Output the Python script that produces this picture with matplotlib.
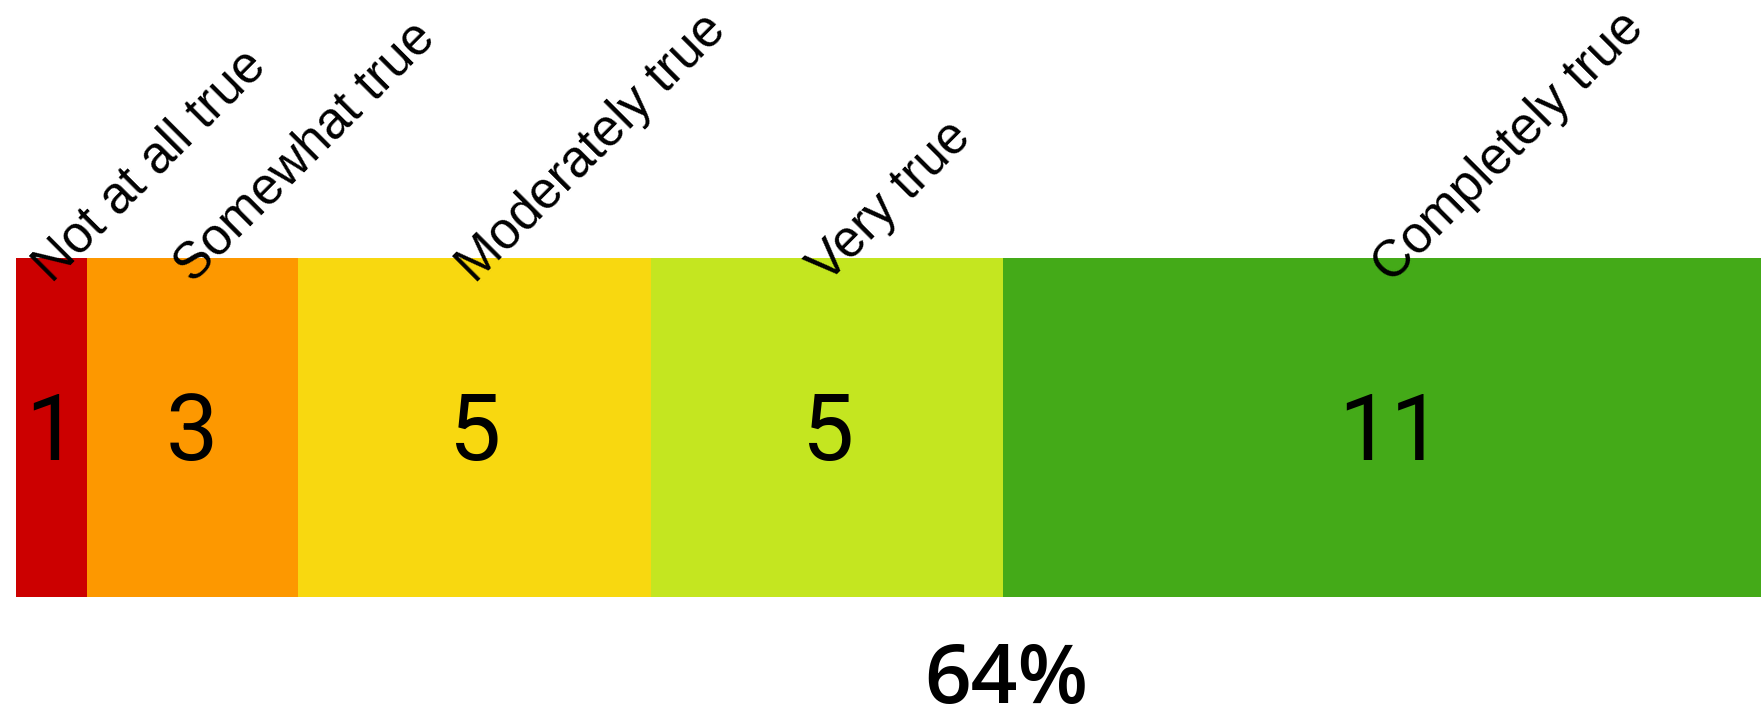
import numpy as np
import matplotlib
matplotlib.use("Agg")
import matplotlib.pyplot as plt

# response counts per agreement level
categories = ["Not at all true", "Somewhat true", "Moderately true", "Very true", "Completely true"]
counts = [1, 3, 5, 5, 11]
colors = ["#cc0000", "#fd9800", "#f8d810", "#c4e620", "#44aa18"]

total = sum(counts)
positive = counts[3] + counts[4]
pct = round(100 * positive / total)

W, H = 1761, 715
unit = 70.5  # px per response
fig = plt.figure(figsize=(W / 100, H / 100), dpi=100)
ax = fig.add_axes([16 / W, 1 - 597 / H, total * unit / W, (597 - 258) / H])

lefts = np.cumsum([0] + counts[:-1])
ax.barh(0, counts, left=lefts, height=1.0, color=colors, edgecolor="none")
ax.set_xlim(0, total)
ax.set_ylim(-0.5, 0.5)
ax.axis("off")

for lf, c, name in zip(lefts, counts, categories):
    cx = lf + c / 2
    ax.text(cx, -0.02, str(c), ha="center", va="center", fontsize=67,
            family="Roboto", color="black")
    ax.text(cx + 0.12, 0.40, name, rotation=45, rotation_mode="anchor",
            ha="left", va="bottom", fontsize=37, family="Liberation Sans",
            color="black", clip_on=False)

fig.text(1006 / W, 12 / H, f"{pct}%", ha="center", va="baseline",
         fontsize=59, family="Open Sans", weight="semibold")

fig.savefig("out.png", dpi=100)
